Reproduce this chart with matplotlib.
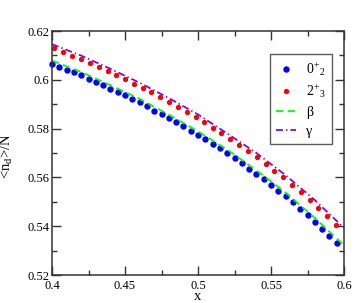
import matplotlib
matplotlib.use("Agg")
import matplotlib.pyplot as plt
from matplotlib.ticker import MultipleLocator, FixedLocator, FixedFormatter

plt.rcParams['font.family'] = ['Liberation Serif', 'DejaVu Serif']
plt.rcParams['mathtext.fontset'] = 'custom'
plt.rcParams['mathtext.rm'] = 'Liberation Serif'
plt.rcParams['mathtext.it'] = 'Liberation Serif:italic'
plt.rcParams['mathtext.default'] = 'regular'
plt.rcParams['lines.scale_dashes'] = False

# ---- data ----
x_blue = [0.400, 0.405, 0.410, 0.415, 0.420, 0.425, 0.430, 0.435, 0.440, 0.445,
          0.450, 0.455, 0.460, 0.465, 0.470, 0.475, 0.480, 0.485, 0.490, 0.495,
          0.500, 0.505, 0.510, 0.515, 0.520, 0.525, 0.530, 0.535, 0.540, 0.545,
          0.550, 0.555, 0.560, 0.565, 0.570, 0.575, 0.580, 0.585, 0.590, 0.595]
y_blue = [0.6065, 0.6054, 0.6041, 0.6031, 0.6018, 0.6005, 0.5991, 0.5977, 0.5964, 0.5950,
          0.5936, 0.5923, 0.5908, 0.5891, 0.5874, 0.5859, 0.5842, 0.5826, 0.5809, 0.5791,
          0.5774, 0.5756, 0.5737, 0.5719, 0.5699, 0.5678, 0.5659, 0.5636, 0.5614, 0.5592,
          0.5569, 0.5545, 0.5523, 0.5498, 0.5472, 0.5445, 0.5418, 0.5390, 0.5361, 0.5331]

x_red = [0.4014, 0.4075, 0.4137, 0.4199, 0.4260, 0.4322, 0.4382, 0.4440, 0.4500, 0.4562,
         0.4621, 0.4680, 0.4740, 0.4803, 0.4865, 0.4925, 0.4984, 0.5041, 0.5101, 0.5160,
         0.5219, 0.5279, 0.5340, 0.5404, 0.5464, 0.5523, 0.5584, 0.5644, 0.5703, 0.5765,
         0.5824, 0.5884, 0.5945]
y_red = [0.6129, 0.6114, 0.6099, 0.6084, 0.6068, 0.6052, 0.6035, 0.6018, 0.6002, 0.5984,
         0.5966, 0.5949, 0.5930, 0.5908, 0.5890, 0.5869, 0.5848, 0.5827, 0.5802, 0.5781,
         0.5756, 0.5733, 0.5708, 0.5682, 0.5655, 0.5627, 0.5600, 0.5570, 0.5541, 0.5509,
         0.5476, 0.5442, 0.5406]

x_lines = [0.40, 0.42, 0.44, 0.46, 0.48, 0.50, 0.52, 0.54, 0.56, 0.58, 0.60]
y_beta = [0.6079, 0.6032, 0.5978, 0.5922, 0.5857, 0.5789, 0.5714, 0.5629, 0.5538, 0.5434, 0.5322]
y_gamma = [0.6146, 0.6099, 0.6045, 0.5988, 0.5925, 0.5858, 0.5780, 0.5700, 0.5609, 0.5507, 0.5393]

labels = ["0$^{+}$$_{2}$", "2$^{+}$$_{3}$", "β", "γ"]
x_ticks = [0.4, 0.45, 0.5, 0.55, 0.6]
x_ticklabels = ["0.4", "0.45", "0.5", "0.55", "0.6"]
y_ticks = [0.52, 0.54, 0.56, 0.58, 0.6, 0.62]
y_ticklabels = ["0.52", "0.54", "0.56", "0.58", "0.6", "0.62"]

# ---- figure ----
fig = plt.figure(figsize=(3.54, 3.03), dpi=100)
ax = fig.add_axes([52/354, 1-275/303, 292/354, 244/303])

ax.plot(x_blue, y_blue, linestyle='none', marker='o', ms=3.6, color='#0000ff',
        mec='#0000ff', label=labels[0], clip_on=False)
ax.plot(x_red, y_red, linestyle='none', marker='o', ms=2.8, color='#ff0000',
        mec='#ff0000', label=labels[1], clip_on=False)
ax.plot(x_lines, y_beta, color='#00ff00', lw=1.3, dashes=(5.2, 3.2), label=labels[2])
ax.plot(x_lines, y_gamma, color='#9400d3', lw=1.3, dashes=(5.0, 2.2, 1.0, 2.2), label=labels[3])

ax.set_xlim(0.4, 0.6)
ax.set_ylim(0.52, 0.62)
ax.xaxis.set_major_locator(FixedLocator(x_ticks))
ax.xaxis.set_major_formatter(FixedFormatter(x_ticklabels))
ax.yaxis.set_major_locator(FixedLocator(y_ticks))
ax.yaxis.set_major_formatter(FixedFormatter(y_ticklabels))
ax.xaxis.set_minor_locator(MultipleLocator(0.025))
ax.yaxis.set_minor_locator(MultipleLocator(0.01))
ax.tick_params(which='both', direction='in', top=True, right=True,
               color='#333333', width=1.0, labelsize=9)
ax.tick_params(which='major', length=6.5)
ax.tick_params(which='minor', length=3.3)
ax.tick_params(axis='x', pad=3.5)
ax.tick_params(axis='y', pad=2)
for s in ax.spines.values():
    s.set_color('#333333')
    s.set_linewidth(1.1)

ax.set_xlabel('x', fontsize=10.5, va='baseline')
ax.xaxis.set_label_coords((198-52)/292, -(300-275)/244)
ax.set_ylabel('<n$_{d}$>/N', fontsize=10.5)
ax.yaxis.set_label_coords(-(52-15)/292, (275-156)/244)

leg = ax.legend(loc='upper left', bbox_to_anchor=((270-52)/292, (275-54)/244),
                fontsize=10, frameon=True, fancybox=False, handlelength=1.45,
                handletextpad=0.7, borderpad=0.45, labelspacing=0.4,
                borderaxespad=0, markerscale=1.0)
leg.get_frame().set_edgecolor('#333333')
leg.get_frame().set_linewidth(1.0)

fig.savefig('out.png', dpi=100)
